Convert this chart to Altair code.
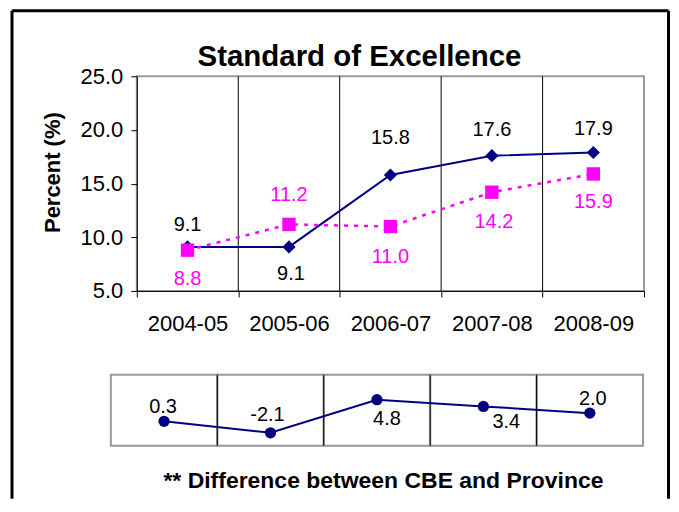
import altair as alt
import pandas as pd

# ---- data ----
years = ["2004-05", "2005-06", "2006-07", "2007-08", "2008-09"]
cbe = [9.1, 9.1, 15.8, 17.6, 17.9]
province = [8.8, 11.2, 11.0, 14.2, 15.9]
difference = [0.3, -2.1, 4.8, 3.4, 2.0]
y_ticks = [5.0, 10.0, 15.0, 20.0, 25.0]
title_text = "Standard of Excellence"
y_title = "Percent (%)"
footer_text = "** Difference between CBE and Province"

# ---- styling ----
FONT = "Liberation Sans, Arial, sans-serif"
NAVY = "#000080"
MAGENTA = "#FF00FF"
W, H = 508, 215
BH = 71

# label offsets (dx, dy) per point
cbe_off = [(0, -22), (2, 27), (0, -37), (0, -26), (0, -24)]
prov_off = [(0, 29), (0, -29), (0, 31), (2, 30), (0, 28)]
diff_off = [(-1, -14), (-3, -18), (10, 19), (23, 16), (3, -14)]

long = pd.DataFrame({
    "year": years * 2,
    "series": ["CBE"] * len(years) + ["Province"] * len(years),
    "value": cbe + province,
    "i": list(range(len(years))) * 2,
})
ddf = pd.DataFrame({"year": years, "diff": difference, "i": list(range(len(years)))})

x_scale = alt.Scale(type="band", paddingInner=0, paddingOuter=0)
x_axis = alt.Axis(title=None, tickBand="extent", grid=False, labelAngle=0,
                  labelFont=FONT, labelFontSize=22, labelColor="black",
                  labelPadding=17, tickColor="black", tickSize=6,
                  domainColor="black", domainWidth=1)
x_top = alt.X("year:N", sort=years, scale=x_scale, axis=x_axis)
y_top = alt.Y("value:Q", scale=alt.Scale(domain=[5, 25], nice=False, zero=False),
              axis=alt.Axis(values=y_ticks, format=".1f", grid=False,
                            title=y_title, titleFont=FONT, titleFontSize=22,
                            titleFontWeight="bold", titleColor="black",
                            titleAngle=-90, titleBaseline="middle",
                            titleX=-84, titleY=96,
                            labelFont=FONT, labelFontSize=22, labelColor="black",
                            labelPadding=8, tickColor="black", tickSize=6,
                            domainColor="black", domainWidth=1))

base = alt.Chart(long)

grid = alt.Chart(ddf).mark_rule(color="black", strokeWidth=1).encode(
    x=alt.X("year:N", sort=years, scale=x_scale, axis=x_axis, bandPosition=0),
    y=alt.value(0), y2=alt.value(H)
).transform_filter("datum.i > 0")

cbe_line = base.transform_filter("datum.series == 'CBE'").mark_line(
    color=NAVY, strokeWidth=2).encode(x=x_top, y=y_top)
cbe_pts = base.transform_filter("datum.series == 'CBE'").mark_point(
    shape="diamond", filled=True, size=175, color=NAVY, opacity=1).encode(x=x_top, y=y_top)
prov_line = base.transform_filter("datum.series == 'Province'").mark_line(
    color=MAGENTA, strokeWidth=2.5, strokeDash=[4, 6]).encode(x=x_top, y=y_top)
prov_pts = base.transform_filter("datum.series == 'Province'").mark_point(
    shape="square", filled=True, size=180, color=MAGENTA, opacity=1).encode(x=x_top, y=y_top)

top_layers = [grid, cbe_line, cbe_pts, prov_line, prov_pts]

for series, offs, col in [("CBE", cbe_off, "black"), ("Province", prov_off, MAGENTA)]:
    for k, (dx, dy) in enumerate(offs):
        top_layers.append(
            base.transform_filter(f"datum.series == '{series}' && datum.i == {k}")
            .mark_text(font=FONT, fontSize=20, color=col, dx=dx, dy=dy, baseline="middle")
            .encode(x=x_top, y=y_top, text=alt.Text("value:Q", format=".1f"))
        )

one = pd.DataFrame({"t": [title_text], "f": [footer_text]})
# outer frame: left, top and right edges (bottom edge is below the visible page)
frame_left = alt.Chart(one).mark_rule(color="black", strokeWidth=3).encode(
    x=alt.value(-125), y=alt.value(-65.5), y2=alt.value(423))
frame_right = alt.Chart(one).mark_rule(color="black", strokeWidth=3).encode(
    x=alt.value(532.5), y=alt.value(-65.5), y2=alt.value(423))
frame_top = alt.Chart(one).mark_rule(color="black", strokeWidth=3).encode(
    x=alt.value(-125), x2=alt.value(532.5), y=alt.value(-65.5))
title = alt.Chart(one).mark_text(font=FONT, fontSize=29.5, fontWeight="bold", color="black",
                                 baseline="middle", align="center").encode(
    text="t:N", x=alt.value(223), y=alt.value(-19))
top_layers += [frame_left, frame_right, frame_top, title]

top = alt.layer(*top_layers).properties(width=W, height=H)

# ---- bottom difference panel ----
xb_scale = alt.Scale(type="band", paddingInner=0, paddingOuter=0, range=[-26, 507])
xb = alt.X("year:N", sort=years, scale=xb_scale, axis=None)
yb = alt.Y("diff:Q", scale=alt.Scale(domain=[-4.8, 10], nice=False, zero=False), axis=None)

bbase = alt.Chart(ddf).transform_calculate(
    lab="replace(format(datum.diff, '.1f'), '\u2212', '-')")
box = bbase.mark_rect(fillOpacity=0, stroke="#999999", strokeWidth=2).encode(
    x=xb, y=alt.value(0), y2=alt.value(BH))
bgrid = bbase.mark_rule(color="black", strokeWidth=1).encode(
    x=alt.X("year:N", sort=years, scale=xb_scale, axis=None, bandPosition=0),
    y=alt.value(0), y2=alt.value(BH)).transform_filter("datum.i > 0")
bline = bbase.mark_line(color=NAVY, strokeWidth=2).encode(x=xb, y=yb)
bpts = bbase.mark_point(shape="circle", filled=True, size=127, color=NAVY, opacity=1).encode(x=xb, y=yb)
blayers = [box, bgrid, bline, bpts]
for k, (dx, dy) in enumerate(diff_off):
    blayers.append(
        bbase.transform_filter(f"datum.i == {k}")
        .mark_text(font=FONT, fontSize=20, color="black", dx=dx, dy=dy, baseline="middle")
        .encode(x=xb, y=yb, text="lab:N")
    )
footer = alt.Chart(one).mark_text(font=FONT, fontSize=23, fontWeight="bold", color="black",
                                  baseline="middle", align="center").encode(
    text="f:N", x=alt.value(247), y=alt.value(106))
blayers.append(footer)
bottom = alt.layer(*blayers).properties(
    width=W, height=BH, view=alt.ViewBackground(stroke="transparent"))

chart = alt.vconcat(top, bottom, spacing=84, bounds="flush").resolve_scale(
    x="independent", y="independent"
).properties(
    padding={"left": 1, "top": 0, "right": 0, "bottom": 0},
    background="white",
).configure_view(stroke="#999999", strokeWidth=2)

chart.save("out.html", embed_options={"renderer": "svg", "actions": False})
